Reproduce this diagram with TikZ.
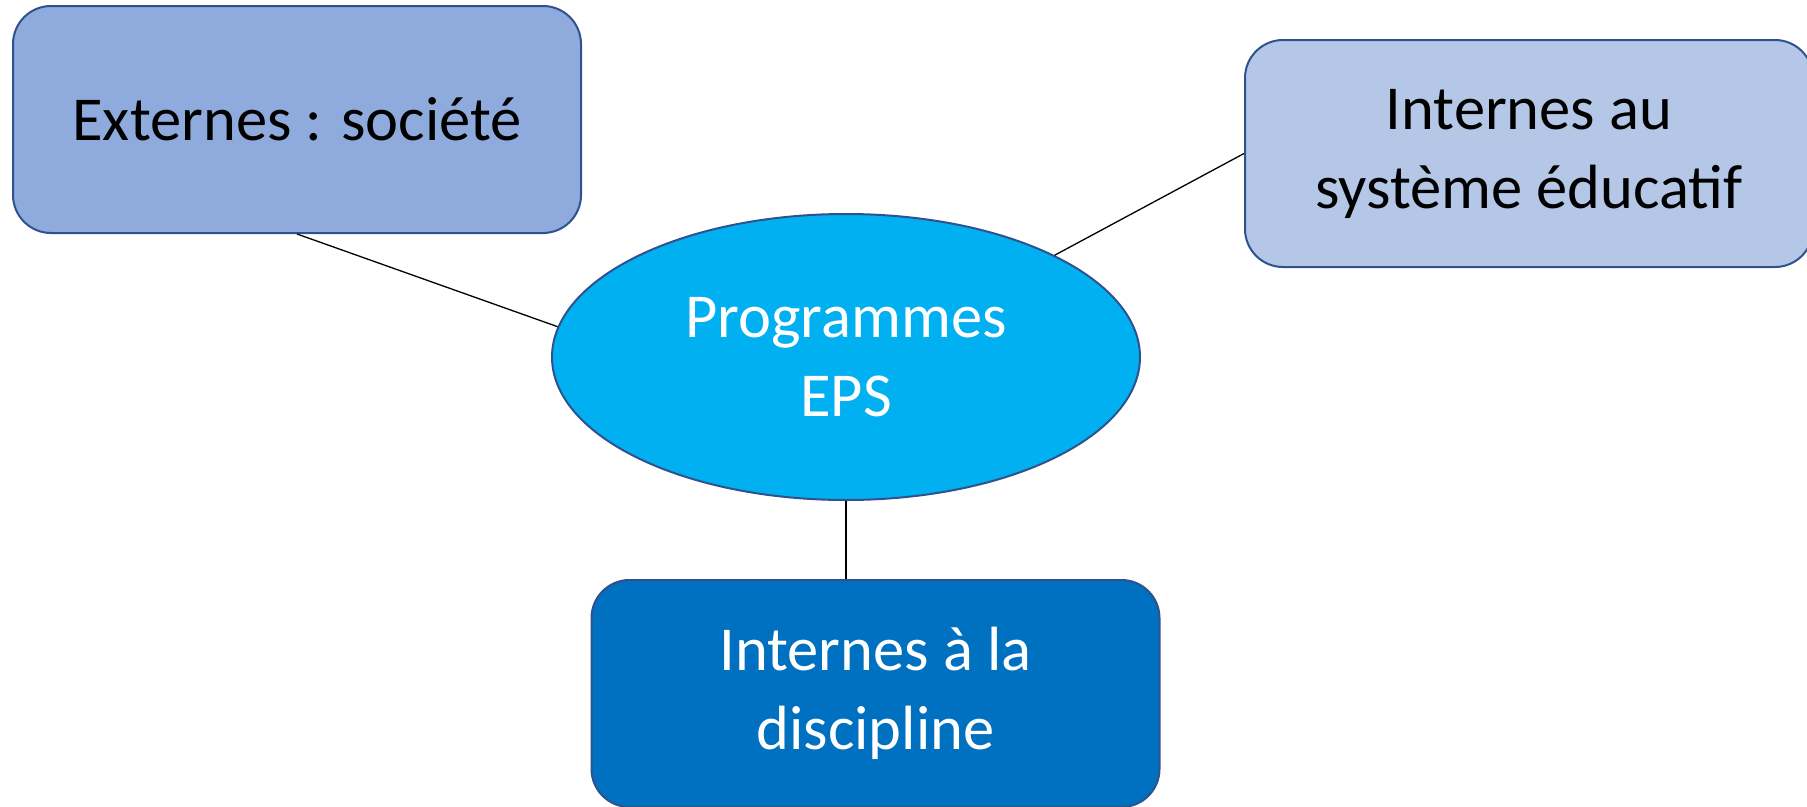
\documentclass[tikz,border=0pt]{standalone}
\usepackage{fontspec}
\setmainfont{Carlito}
\usetikzlibrary{shapes.geometric}
\definecolor{edgeblue}{HTML}{2F528F}
\definecolor{cext}{HTML}{8FAADC}
\definecolor{csys}{HTML}{B4C7E7}
\definecolor{cprog}{HTML}{00B0F0}
\definecolor{cdisc}{HTML}{0070C0}
\begin{document}
\begin{tikzpicture}[x=1pt,y=-1pt,
  box/.style={draw=edgeblue,line width=2pt,rounded corners=38pt,minimum width=568pt,minimum height=227pt,align=center,inner sep=0pt,font=\fontsize{62.5}{79}\selectfont},
  link/.style={draw=black,line width=1.3pt}]
\useasboundingbox (0,0) rectangle (1807,806);
\node[box,fill=cext] (ext) at (297,119.5) {Externes : société};
\node[box,fill=csys] (sys) at (1529,153.5) {Internes au\\système éducatif};
\node[ellipse,draw=edgeblue,line width=2pt,fill=cprog,minimum width=588pt,minimum height=286pt,inner sep=0pt,text=white,align=center,font=\fontsize{62.5}{79}\selectfont] (prog) at (846,357) {Programmes\\EPS};
\node[box,fill=cdisc,text=white] (disc) at (875.5,693.5) {Internes à la\\discipline};
\draw[link] (ext.south) -- (prog.174.5);
\draw[link] (prog.26) -- (sys.west);
\draw[link] (prog.south) -- (prog.south |- disc.north);
\end{tikzpicture}
\end{document}
